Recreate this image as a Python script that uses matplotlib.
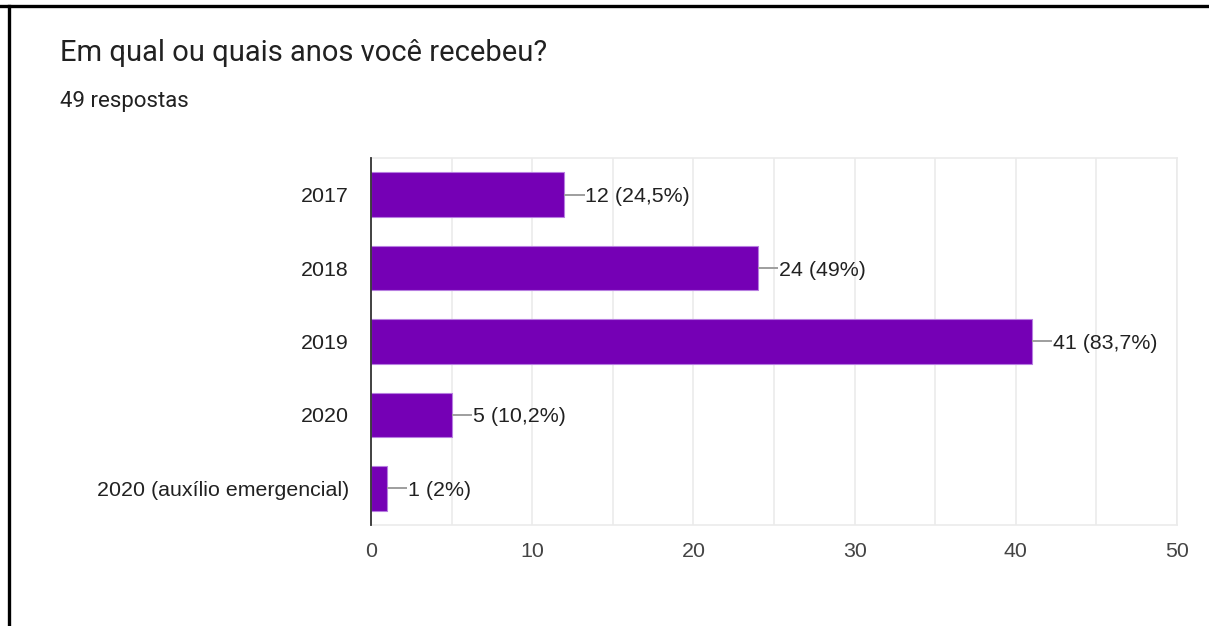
import matplotlib.pyplot as plt
from matplotlib.lines import Line2D
from matplotlib.ticker import MultipleLocator

# survey answers
categories = ["2017", "2018", "2019", "2020", "2020 (auxílio emergencial)"]
counts = [12, 24, 41, 5, 1]
percents = ["24,5%", "49%", "83,7%", "10,2%", "2%"]
total = 49

bar_color = "#7500b5"
text_color = "#212121"
label_font = "Liberation Sans"

fig = plt.figure(figsize=(12.09, 6.26), dpi=100)
fig.patch.set_facecolor("white")

# frame around the card (top and left edges)
fig.add_artist(Line2D([0, 1], [1 - 6 / 626, 1 - 6 / 626], color="black", lw=2.4,
                      transform=fig.transFigure))
fig.add_artist(Line2D([8.5 / 1209, 8.5 / 1209], [0, 1 - 6 / 626], color="black", lw=2.4,
                      transform=fig.transFigure))

fig.text(60 / 1209, 1 - 53 / 626, "Em qual ou quais anos você recebeu?",
         fontsize=21, family="Roboto", color=text_color, va="center")
fig.text(60 / 1209, 1 - 101 / 626, f"{total} respostas",
         fontsize=16, family="Roboto", color=text_color, va="center")

ax = fig.add_axes([371 / 1209, 1 - 525 / 626, 806 / 1209, 367 / 626])
y = list(range(len(categories)))
ax.barh(y, counts, height=0.61, color=bar_color, edgecolor="#b77ee0",
        linewidth=0.8, zorder=3)

for yi, c, p in zip(y, counts, percents):
    ax.plot([c, c + 1.25], [yi, yi], color="#9e9e9e", lw=1.4, zorder=3,
            solid_capstyle="butt")
    ax.text(c + 1.3, yi, f"{c} ({p})", va="center_baseline", ha="left",
            fontsize=15.4, family=label_font, color=text_color)

ax.set_xlim(0, 50)
ax.set_ylim(4.5, -0.5)
ax.set_yticks(y)
ax.set_yticklabels(categories, fontsize=15.4, family=label_font,
                   color=text_color, va="center_baseline")
ax.xaxis.set_major_locator(MultipleLocator(10))
ax.xaxis.set_minor_locator(MultipleLocator(5))
for lbl in ax.get_xticklabels():
    lbl.set_family(label_font)
ax.tick_params(axis="x", which="both", length=0, labelsize=15.4,
               labelcolor="#444444", pad=12)
ax.tick_params(axis="y", length=0, pad=16)
ax.grid(axis="x", which="both", color="#ebebeb", lw=1.2, zorder=0)

for side in ["top", "right", "bottom"]:
    ax.spines[side].set_color("#ebebeb")
    ax.spines[side].set_linewidth(1.2)
ax.spines["left"].set_color("#333333")
ax.spines["left"].set_linewidth(1.3)
ax.spines["left"].set_zorder(4)

fig.savefig("out.png", dpi=100)
